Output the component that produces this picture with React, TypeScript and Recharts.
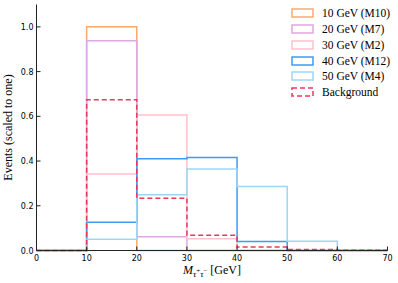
import { LineChart, Line, XAxis, YAxis, Legend } from "recharts";

// histogram bin edges (GeV); value at edge i is the height of bin [i, i+1)
const edges = [0, 10, 20, 30, 40, 50, 60, 70];
const m10 = [0, 1.0, 0, 0, 0, 0, 0, 0];
const m7 = [0, 0.938, 0.062, 0, 0, 0, 0, 0];
const m2 = [0, 0.342, 0.606, 0.053, 0, 0, 0, 0];
const m12 = [0, 0.126, 0.41, 0.416, 0.04, 0, 0, 0];
const m4 = [0, 0.05, 0.249, 0.364, 0.286, 0.041, 0, 0];
const background = [0, 0.674, 0.234, 0.068, 0.016, 0.004, 0.001, 0.001];

const seriesKeys = ["m10", "m7", "m2", "m12", "m4", "background"];
const seriesNames = [
  "10 GeV (M10)",
  "20 GeV (M7)",
  "30 GeV (M2)",
  "40 GeV (M12)",
  "50 GeV (M4)",
  "Background",
];
const seriesColors = ["#f8aa6e", "#e0a8e0", "#ffc1cc", "#3d9bf5", "#9dd6f5", "#e8385e"];

const xTicks = [0, 10, 20, 30, 40, 50, 60, 70];
const yTicks = [0, 0.2, 0.4, 0.6, 0.8, 1.0];

const data = edges.map((x, i) => ({
  x,
  m10: m10[i],
  m7: m7[i],
  m2: m2[i],
  m12: m12[i],
  m4: m4[i],
  background: background[i],
}));

const tickFont = { fontFamily: "'DejaVu Sans', sans-serif", fontSize: 8, fill: "#000" };
const serif = "'Liberation Serif', 'DejaVu Serif', serif";
const TICK = 4;

function BottomTick({ x, y, payload }: any) {
  return (
    <g>
      <line x1={x} x2={x} y1={y} y2={y - TICK} stroke="#222" />
      <text x={x} y={y + 10} textAnchor="middle" {...tickFont}>
        {payload.value}
      </text>
    </g>
  );
}

function LeftTick({ x, y, payload }: any) {
  return (
    <g>
      <line x1={x} x2={x + TICK} y1={y} y2={y} stroke="#222" />
      <text x={x - 3} y={y + 3} textAnchor="end" {...tickFont}>
        {payload.value.toFixed(1)}
      </text>
    </g>
  );
}

function TopTick({ x, y }: any) {
  return <line x1={x} x2={x} y1={y} y2={y + TICK} stroke="#222" />;
}

function RightTick({ x, y }: any) {
  return <line x1={x} x2={x - TICK} y1={y} y2={y} stroke="#222" />;
}

function YLabel({ viewBox }: any) {
  const cx = viewBox.x + 12;
  const cy = viewBox.y + viewBox.height / 2;
  return (
    <text
      transform={`translate(${cx},${cy}) rotate(-90)`}
      textAnchor="middle"
      fontFamily={serif}
      fontSize={12}
      fill="#000"
    >
      Events (scaled to one)
    </text>
  );
}

function XLabel({ viewBox }: any) {
  const cx = viewBox.x + viewBox.width / 2;
  const cy = viewBox.y + 23;
  return (
    <text x={cx} y={cy} textAnchor="middle" fontFamily={serif} fontSize={12} fill="#000">
      <tspan fontStyle="italic">M</tspan>
      <tspan fontSize={9} fontStyle="italic" dy={3}>τ</tspan>
      <tspan fontSize={7} dy={-4}>+</tspan>
      <tspan fontSize={9} fontStyle="italic" dy={4}>τ</tspan>
      <tspan fontSize={7} dy={-4}>−</tspan>
      <tspan dy={1}> [GeV]</tspan>
    </text>
  );
}

function LegendBox() {
  return (
    <div style={{ fontFamily: serif, fontSize: 11.5, color: "#000" }}>
      {seriesNames.map((name, i) => (
        <div key={name} style={{ display: "flex", alignItems: "center", height: 15.7 }}>
          <svg width={23} height={10} style={{ display: "block" }}>
            <rect
              x={1}
              y={1}
              width={21}
              height={8}
              fill="none"
              stroke={seriesColors[i]}
              strokeWidth={1.5}
              strokeDasharray={seriesKeys[i] === "background" ? "5 3" : undefined}
            />
          </svg>
          <span style={{ marginLeft: 8, whiteSpace: "nowrap" }}>{name}</span>
        </div>
      ))}
    </div>
  );
}

export default function App() {
  return (
    <div style={{ position: "absolute", left: 0, top: 0, background: "#fff" }}>
      <LineChart
        width={398}
        height={283}
        data={data}
        margin={{ top: 4.5, right: 10.5, left: 0, bottom: 0 }}
      >
        <XAxis
          dataKey="x"
          type="number"
          domain={[0, 70]}
          ticks={xTicks}
          height={32.5}
          axisLine={{ stroke: "#222" }}
          tickLine={false}
          tickSize={0}
          tickMargin={0}
          tick={<BottomTick />}
          label={{ content: <XLabel /> }}
        />
        <XAxis
          xAxisId="top"
          orientation="top"
          dataKey="x"
          type="number"
          domain={[0, 70]}
          ticks={xTicks}
          height={0}
          axisLine={{ stroke: "#222" }}
          tickLine={false}
          tickSize={0}
          tickMargin={0}
          tick={<TopTick />}
        />
        <YAxis
          type="number"
          domain={[0, 1.1]}
          ticks={yTicks}
          width={36.5}
          axisLine={{ stroke: "#222" }}
          tickLine={false}
          tickSize={0}
          tickMargin={0}
          tick={<LeftTick />}
          label={{ content: <YLabel /> }}
        />
        <YAxis
          yAxisId="right"
          orientation="right"
          type="number"
          domain={[0, 1.1]}
          ticks={yTicks}
          width={0}
          axisLine={{ stroke: "#222" }}
          tickLine={false}
          tickSize={0}
          tickMargin={0}
          tick={<RightTick />}
        />
        <Legend
          layout="vertical"
          align="center"
          verticalAlign="middle"
          wrapperStyle={{ left: 291, top: 5.6, width: 105, height: 96 }}
          content={<LegendBox />}
        />
        {seriesKeys.map((key, i) => (
          <Line
            key={key}
            dataKey={key}
            name={seriesNames[i]}
            type="stepAfter"
            stroke={seriesColors[i]}
            strokeWidth={1.5}
            strokeDasharray={key === "background" ? "5 3" : undefined}
            dot={false}
            activeDot={false}
            isAnimationActive={false}
          />
        ))}
      </LineChart>
    </div>
  );
}
